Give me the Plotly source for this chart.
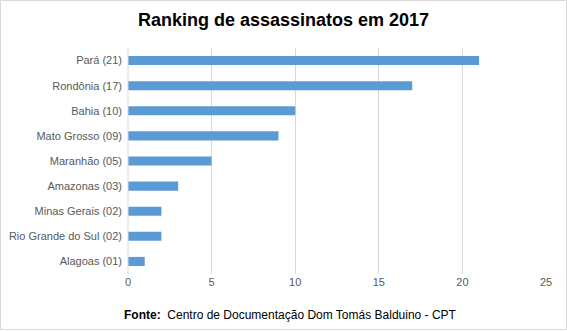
import plotly.graph_objects as go

categories = ["Pará (21)", "Rondônia (17)", "Bahia (10)", "Mato Grosso (09)", "Maranhão (05)",
              "Amazonas (03)", "Minas Gerais (02)", "Rio Grande do Sul (02)", "Alagoas (01)"]
values = [21, 17, 10, 9, 5, 3, 2, 2, 1]
x_ticks = [0, 5, 10, 15, 20, 25]

W, H = 567, 331
L, R, T, B = 128, 21, 48, 57
pw, ph = W - L - R, H - T - B

def px(x):
    return (x - L) / pw

def py(y):
    return (H - B - y) / ph

fig = go.Figure(go.Bar(
    y=categories, x=values, orientation="h",
    marker=dict(color="#5B9BD5", line=dict(width=0)),
    width=0.36,
))

fig.update_layout(
    width=W, height=H,
    margin=dict(l=L, r=R, t=T, b=B, autoexpand=False),
    paper_bgcolor="white", plot_bgcolor="white",
    showlegend=False,
    title=dict(text="<b>Ranking de assassinatos em 2017</b>", x=0.5, xanchor="center",
               y=1 - 20 / H, yanchor="middle",
               font=dict(family="Liberation Sans, Arial", size=18, color="#000000")),
    xaxis=dict(range=[0, 25], tickvals=x_ticks, showgrid=True, gridcolor="#D9D9D9", gridwidth=1,
               zeroline=False, showline=False, ticks="", ticklen=0, automargin=False,
               tickfont=dict(family="Liberation Sans, Arial", size=11, color="#595959")),
    yaxis=dict(categoryorder="array", categoryarray=categories, autorange="reversed",
               showgrid=False, zeroline=False, showline=False, ticks="", automargin=False,
               ticklabelstandoff=5,
               tickfont=dict(family="Liberation Sans, Arial", size=11, color="#595959")),
    annotations=[dict(text="<b>Fonte:</b>  Centro de Documentação Dom Tomás Balduino - CPT",
                      xref="paper", yref="paper", x=px(290), y=py(315), xanchor="center", yanchor="middle",
                      showarrow=False, font=dict(family="Liberation Sans, Arial", size=12, color="#000000"))],
    shapes=[
        dict(type="rect", xref="paper", yref="paper", x0=px(0.5), x1=px(566.5), y0=py(329.5), y1=py(0.5),
             line=dict(color="#D9D9D9", width=1), fillcolor="rgba(0,0,0,0)", layer="below"),
        dict(type="line", xref="paper", yref="paper", x0=0, x1=0, y0=0, y1=1,
             line=dict(color="#D9D9D9", width=1), layer="above"),
    ],
)

fig.write_html("out.html")
